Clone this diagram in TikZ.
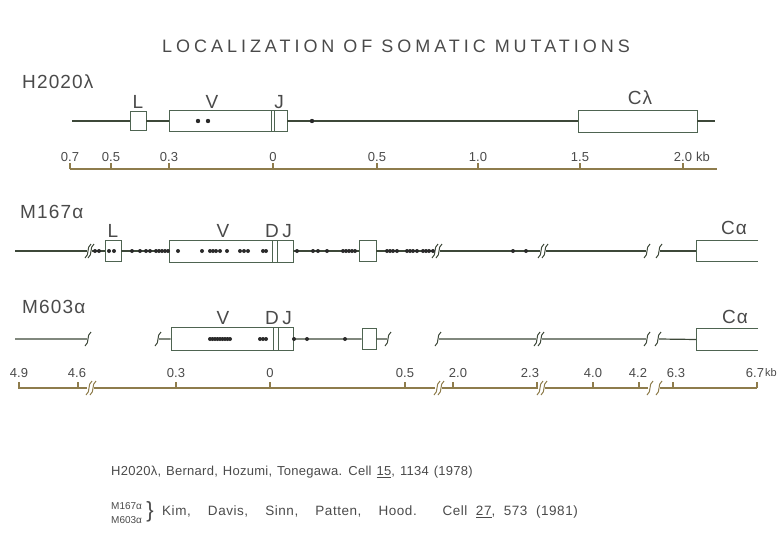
\documentclass[tikz,border=0pt]{standalone}
\usepackage{fontspec}
\setmainfont{Liberation Sans}
\newfontfamily\wideface[LetterSpace=22]{Liberation Sans}
\newfontfamily\genface[LetterSpace=6]{Liberation Sans}
\newfontfamily\refface[LetterSpace=2,WordSpace=1.3]{Liberation Sans}
\newfontfamily\refwide[LetterSpace=4,WordSpace=2]{Liberation Sans}
\definecolor{ink}{HTML}{3D4839}
\definecolor{boxline}{HTML}{4E6451}
\definecolor{txt}{HTML}{4A4A4A}
\definecolor{ruler}{HTML}{8E7C4C}
\definecolor{dotc}{HTML}{2A2A2A}
\tikzset{
  brk/.pic={\draw[pic actions] (-3,7) .. controls (2,3.5) and (-2,-3.5) .. (3,-7);},
}

\begin{document}
\begin{tikzpicture}[x=1pt,y=-1pt,
    gene/.style={draw=ink,line width=1.2pt},
    exon/.style={draw=boxline,line width=0.9pt,fill=white,inner sep=0pt,minimum height=21},
    openbox/.style={draw=boxline,line width=0.9pt},
    lbl/.style={text=txt,inner sep=0pt,font=\genface\fontsize{19}{20}\selectfont},
    num/.style={text=txt,inner sep=0pt,font=\fontsize{13}{14}\selectfont},
    reftext/.style={text=txt,inner sep=0pt,font=\refface\fontsize{13}{15}\selectfont},
    scaleline/.style={draw=ruler,line width=1.2pt},
    mut/.style={fill=dotc},
    squig/.style={draw=ink,line width=1pt}]
\useasboundingbox (0,0) rectangle (782,541);

\node[text=txt,inner sep=0pt,font=\wideface\fontsize{18}{20}\selectfont] (title) at (396,46) {LOCALIZATION OF SOMATIC MUTATIONS};

% H2020 lambda
\node[lbl,anchor=west] (hname) at (22,82) {H2020λ};
\coordinate (h0) at (72,121);
\coordinate (h1) at (715,121);
\node[exon,minimum width=16,minimum height=19] (hL) at (138,121) {};
\node[exon,minimum width=102] (hV) at (220,121) {};
\node[exon,minimum width=3] (hD) at (272.5,121) {};
\node[exon,minimum width=13] (hJ) at (280.5,121) {};
\node[exon,minimum width=119,minimum height=22] (hC) at (637.5,121) {};
\draw[gene] (h0) -- (hL.west) (hL.east) -- (hV.west) (hJ.east) -- (hC.west) (hC.east) -- (h1);
\node[lbl] (hLt) at (138,102) {L};
\node[lbl] (hVt) at (212,102) {V};
\node[lbl] (hJt) at (279,102) {J};
\node[lbl] (hCt) at (640,98) {Cλ};
\foreach \x in {198,208,312} \fill[mut] (\x,121) circle (2.2);

\coordinate (ra0) at (70,169);
\coordinate (ra1) at (717,169);
\draw[scaleline] (ra0) -- (ra1);
\foreach \x/\t [count=\i] in {70/0.7,111/0.5,169/0.3,273/0,377/0.5,478/1.0,580/1.5,683/2.0}{
  \draw[scaleline] (\x,169) -- (\x,163);
  \node[num] (ta\i) at (\x,157) {\t};
}
\node[num,anchor=west] (takb) at (696,157) {kb};

% M167 alpha
\node[lbl,anchor=west] (mname) at (20,212) {M167α};
\coordinate (b0) at (15,251);
\coordinate (b1) at (87,251);
\coordinate (b2) at (92,251);
\node[exon,minimum width=16] (bL) at (113,251) {};
\node[exon,minimum width=103,minimum height=22] (bV) at (220.5,251) {};
\node[exon,minimum width=5,minimum height=22] (bD) at (274.5,251) {};
\node[exon,minimum width=16,minimum height=22] (bJ) at (285,251) {};
\node[exon,minimum width=17] (bX) at (367.5,251) {};
\coordinate (b3) at (434,251);
\coordinate (b4) at (440,251);
\coordinate (b5) at (540,251);
\coordinate (b6) at (546,251);
\coordinate (b7) at (646,251);
\coordinate (b8) at (660,251);
\node[inner sep=0pt,minimum width=61,minimum height=21] (bC) at (727.5,251) {};
\draw[gene] (b0) -- (b1) (b2) -- (bL.west) (bL.east) -- (bV.west) (bJ.east) -- (bX.west)
  (bX.east) -- (b3) (b4) -- (b5) (b6) -- (b7) (b8) -- (bC.west);
\draw[openbox] (bC.north east) -- (bC.north west) -- (bC.south west) -- (bC.south east);
\foreach \x in {88,91,435,439,541,545,647,659} \pic[squig] at (\x,251) {brk};
\node[lbl] (bLt) at (113,231) {L};
\node[lbl] (bVt) at (223,231) {V};
\node[lbl] (bDt) at (272,231) {D};
\node[lbl] (bJt) at (287,231) {J};
\node[lbl] (bCt) at (734,228) {Cα};
\foreach \x in {95,99,109,114,132,140,146,150,156,159,162,165,168,178,202,210,213,216,220,227,240,244,248,263,266,
  297,313,318,327,343,346,349,352,355,387,390,393,397,407,410,413,417,423,426,429,433,513,526}
  \fill[mut] (\x,251) circle (2);

% M603 alpha
\node[lbl,anchor=west] (pname) at (22,307) {M603α};
\coordinate (c0) at (15,339);
\coordinate (c1) at (87,339);
\coordinate (c2) at (159,339);
\node[exon,minimum width=102,minimum height=23] (cV) at (222,339) {};
\node[exon,minimum width=5,minimum height=23] (cD) at (275.5,339) {};
\node[exon,minimum width=15,minimum height=23] (cJ) at (285.5,339) {};
\node[exon,minimum width=14] (cX) at (369,339) {};
\coordinate (c3) at (387,339);
\coordinate (c4) at (439,339);
\coordinate (c5) at (536,339);
\coordinate (c6) at (542,339);
\coordinate (c7) at (646,339);
\coordinate (c8) at (659,339);
\node[inner sep=0pt,minimum width=61,minimum height=21] (cC) at (727.5,339.5) {};
\draw[gene] (c0) -- (c1) (c2) -- (cV.west) (cJ.east) -- (cX.west) (cX.east) -- (c3)
  (c4) -- (c5) (c6) -- (c7) (c8) -- (cC.west);
\draw[openbox] (cC.north east) -- (cC.north west) -- (cC.south west) -- (cC.south east);
\foreach \x in {88,158,388,438,537,541,647,658} \pic[squig] at (\x,339) {brk};
\node[lbl] (cVt) at (223,318) {V};
\node[lbl] (cDt) at (272,318) {D};
\node[lbl] (cJt) at (287,318) {J};
\node[lbl] (cCt) at (735,317) {Cα};
\foreach \x in {210,212.5,...,230,260,263,266,294,307,345} \fill[mut] (\x,339) circle (2);

\coordinate (r0) at (18,388);
\coordinate (r1) at (87,388);
\coordinate (r2) at (94,388);
\coordinate (r3) at (435,388);
\coordinate (r4) at (442,388);
\coordinate (r5) at (538,388);
\coordinate (r6) at (545,388);
\coordinate (r7) at (648,388);
\coordinate (r8) at (660,388);
\coordinate (r9) at (757,388);
\draw[scaleline] (r0) -- (r1) (r2) -- (r3) (r4) -- (r5) (r6) -- (r7) (r8) -- (r9);
\foreach \x in {89,93,437,441,540,544,650,659} \pic[squig,draw=ruler] at (\x,388) {brk};
\foreach \x/\t/\lx [count=\i] in {19/4.9/19,78/4.6/77,176/0.3/176,270/0/270,405/0.5/405,453/2.0/458,
  537/2.3/530,593/4.0/593,639/4.2/638,673/6.3/676,757/6.7/755}{
  \draw[scaleline] (\x,388) -- (\x,382);
  \node[num] (tc\i) at (\lx,373) {\t};
}
\node[num,anchor=west,font=\fontsize{11}{12}\selectfont] (tckb) at (765,373) {kb};

% references
\node[reftext,anchor=west] (ref1) at (111,472) {H2020λ, Bernard, Hozumi, Tonegawa. Cell \underline{15}, 1134 (1978)};
\node[text=txt,inner sep=0pt,font=\fontsize{10}{11}\selectfont,anchor=west] (ref2a) at (111,506) {M167α};
\node[text=txt,inner sep=0pt,font=\fontsize{10}{11}\selectfont,anchor=west] (ref2b) at (111,520) {M603α};
\node[text=txt,inner sep=0pt,font=\fontsize{22}{22}\selectfont] (brace) at (150,512) {\}};
\node[reftext,font=\refwide\fontsize{13.5}{15}\selectfont,anchor=west] (ref2) at (162,512) {Kim,\ \ Davis,\ \ Sinn,\ \ Patten,\ \ Hood.\ \ \ Cell \underline{27}, 573 (1981)};
\end{tikzpicture}
\end{document}
